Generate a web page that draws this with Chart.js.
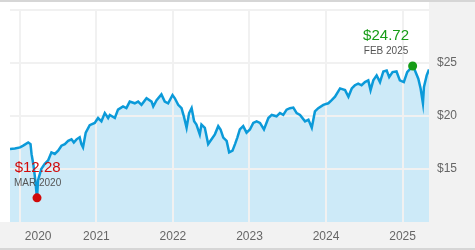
<!DOCTYPE html>
<html>
<head>
<meta charset="utf-8">
<script src="https://cdn.jsdelivr.net/npm/chart.js@4.4.1/dist/chart.umd.min.js"></script>
<style>
  html, body { margin: 0; padding: 0; background: #fff; }
  canvas { display: block; }
</style>
</head>
<body>
<canvas id="chart" width="475" height="250"></canvas>
<script>
// price history
const dates = [
  '2019-11-15','2019-12-08','2020-01-02','2020-01-17','2020-02-10','2020-02-21','2020-02-26','2020-03-05',
  '2020-03-13','2020-03-23','2020-03-28','2020-04-13','2020-04-29','2020-05-15','2020-05-31','2020-06-16',
  '2020-07-02','2020-07-18','2020-08-03','2020-08-19','2020-09-04','2020-09-15','2020-09-28','2020-10-13',
  '2020-10-21','2020-10-29','2020-11-11','2020-11-30','2020-12-24','2021-01-09','2021-01-25','2021-02-10',
  '2021-02-26','2021-03-06','2021-03-30','2021-04-14','2021-05-08','2021-05-24','2021-06-09','2021-07-03',
  '2021-07-19','2021-08-04','2021-08-28','2021-09-21','2021-09-29','2021-10-15','2021-11-07','2021-11-23',
  '2021-12-09','2021-12-30','2022-01-10','2022-01-26','2022-02-11','2022-02-22','2022-03-07','2022-03-19',
  '2022-03-31','2022-04-12','2022-04-23','2022-05-09','2022-05-17','2022-06-02','2022-06-18','2022-07-04',
  '2022-07-20','2022-08-05','2022-08-16','2022-08-29','2022-09-14','2022-09-26','2022-10-12','2022-10-24',
  '2022-11-04','2022-11-16','2022-12-02','2022-12-18','2023-01-03','2023-01-19','2023-02-04','2023-02-20',
  '2023-03-11','2023-04-01','2023-04-17','2023-05-10','2023-05-26','2023-06-11','2023-06-27','2023-07-13',
  '2023-07-29','2023-08-14','2023-08-30','2023-09-23','2023-10-09','2023-10-25','2023-11-09','2023-11-25',
  '2023-12-19','2024-01-12','2024-01-28','2024-02-13','2024-03-08','2024-04-01','2024-04-17','2024-05-03',
  '2024-05-18','2024-06-03','2024-06-19','2024-07-05','2024-07-21','2024-08-01','2024-08-14','2024-08-30',
  '2024-09-15','2024-10-01','2024-10-17','2024-10-29','2024-11-14','2024-12-03','2024-12-19','2025-01-07',
  '2025-01-23','2025-02-18','2025-03-01','2025-03-17','2025-03-28','2025-04-08','2025-04-13','2025-04-26',
  '2025-05-07'
];
const prices = [
  16.88,16.94,17.04,17.20,17.50,17.35,16.40,15.50,
  14.26,12.28,13.95,15.03,15.50,15.80,16.57,16.42,
  16.73,17.20,17.35,17.65,17.80,17.50,17.80,18.00,
  17.35,17.04,18.43,19.14,19.35,19.81,19.50,20.28,
  19.81,20.10,19.81,20.60,20.90,20.74,21.36,21.20,
  21.36,21.05,21.67,21.36,20.90,21.50,22.04,21.36,
  21.20,21.98,21.67,21.05,20.74,19.97,18.89,20.28,
  20.74,19.50,19.20,18.27,19.20,18.89,17.35,17.80,
  18.27,19.04,18.73,17.96,17.65,16.57,16.73,17.35,
  17.96,18.73,19.04,18.43,18.73,19.35,19.50,19.35,
  18.73,19.81,20.10,19.97,20.28,20.10,20.60,20.74,
  20.80,20.28,20.10,19.50,19.66,18.89,20.43,20.74,
  21.05,21.20,21.50,21.82,22.60,22.44,21.82,22.60,
  22.90,23.06,22.90,23.20,23.36,22.44,23.36,23.83,
  23.20,24.20,24.29,23.67,24.14,24.20,23.36,23.20,
  24.14,24.72,24.29,23.52,22.60,21.20,22.75,23.83,
  24.38
];
const yearTicks = [2020, 2021, 2022, 2023, 2024, 2025];
const priceTicks = [10, 15, 20, 25, 30];
const months = ['JAN','FEB','MAR','APR','MAY','JUN','JUL','AUG','SEP','OCT','NOV','DEC'];

function toYear(s) {
  const [y, m, d] = s.split('-').map(Number);
  const a = Date.UTC(y, 0, 1), b = Date.UTC(y + 1, 0, 1);
  return y + (Date.UTC(y, m - 1, d) - a) / (b - a);
}

const points = dates.map((d, i) => ({ x: toYear(d), y: prices[i] }));
const lowIdx = prices.indexOf(Math.min(...prices));
const highIdx = prices.indexOf(Math.max(...prices));
const marks = [lowIdx, highIdx];
const markColors = ['#d10a0a', '#169c16'];

function monthLabel(s) {
  const [y, m] = s.split('-').map(Number);
  return months[m - 1] + ' ' + y;
}

const frame = {
  id: 'frame',
  beforeDraw(chart) {
    const { ctx, width, height, chartArea: a } = chart;
    ctx.save();
    ctx.fillStyle = '#fff';
    ctx.fillRect(0, 0, width, height);
    ctx.fillStyle = '#f2f2f2';
    ctx.fillRect(a.right, 0, width - a.right, height);
    ctx.fillRect(0, a.bottom, width, height - a.bottom);
    ctx.fillStyle = '#d6d6d6';
    ctx.fillRect(0, 0, width, 2);
    ctx.fillRect(0, height - 2, width, 2);
    ctx.restore();
  },
  // grid goes over the fill but under the line
  beforeDatasetDraw(chart, args) {
    if (args.index !== 1) return;
    const { ctx, chartArea: a, scales } = chart;
    ctx.save();
    ctx.strokeStyle = '#f1f1f1';
    ctx.lineWidth = 2;
    ctx.beginPath();
    scales.y.ticks.forEach(t => {
      if (t.value === scales.y.min) return;
      const y = Math.round(scales.y.getPixelForValue(t.value));
      ctx.moveTo(a.left, y); ctx.lineTo(a.right, y);
    });
    scales.x.ticks.forEach(t => {
      const x = Math.round(scales.x.getPixelForValue(t.value));
      ctx.moveTo(x, a.top); ctx.lineTo(x, a.bottom);
    });
    ctx.stroke();
    ctx.restore();
  },
  afterDatasetsDraw(chart) {
    const { ctx, chartArea: a, scales } = chart;
    ctx.save();
    ctx.textAlign = 'center';
    ctx.textBaseline = 'middle';
    marks.forEach((idx, k) => {
      const px = scales.x.getPixelForValue(points[idx].x);
      const py = scales.y.getPixelForValue(points[idx].y);
      const top = '$' + prices[idx].toFixed(2);
      const sub = monthLabel(dates[idx]);
      ctx.font = '15px "Liberation Sans", Arial, sans-serif';
      const w1 = ctx.measureText(top).width;
      ctx.font = '10px "Liberation Sans", Arial, sans-serif';
      const w2 = ctx.measureText(sub).width;
      const half = Math.max(w1, w2) / 2;
      const cx = Math.max(a.left + 4 + half, Math.min(px, a.right - 20 - half));
      ctx.font = '15px "Liberation Sans", Arial, sans-serif';
      ctx.fillStyle = markColors[k];
      ctx.fillText(top, cx, py - 30);
      ctx.font = '10px "Liberation Sans", Arial, sans-serif';
      ctx.fillStyle = '#555';
      ctx.fillText(sub, cx, py - 15);
    });
    ctx.restore();
  }
};

Chart.defaults.font.family = '"Liberation Sans", Arial, sans-serif';
Chart.defaults.font.size = 12;
Chart.defaults.color = '#666';

new Chart(document.getElementById('chart'), {
  type: 'line',
  data: {
    datasets: [
      {
        data: points, borderWidth: 0, pointRadius: 0, fill: 'start',
        backgroundColor: '#cdeaf8', order: 3
      },
      {
        data: points, borderColor: '#0b9ad9', borderWidth: 2.5, pointRadius: 0,
        fill: false, tension: 0, order: 2
      },
      {
        type: 'scatter',
        data: marks.map(i => points[i]),
        pointRadius: 4.5, pointHoverRadius: 4.5, borderWidth: 0,
        backgroundColor: markColors, order: 1
      }
    ]
  },
  options: {
    responsive: false,
    animation: false,
    devicePixelRatio: 1,
    layout: { padding: { left: 10, top: 10, right: 0, bottom: 0 } },
    plugins: { legend: { display: false }, tooltip: { enabled: false } },
    scales: {
      x: {
        type: 'linear',
        min: points[0].x,
        max: points[points.length - 1].x,
        grid: { display: false, drawTicks: false },
        border: { display: false },
        afterBuildTicks: s => { s.ticks = yearTicks.map(v => ({ value: v })); },
        afterFit: s => { s.height = 28; s.paddingLeft = 0; s.paddingRight = 0; },
        ticks: {
          autoSkip: false, maxRotation: 0, padding: 7, color: '#666',
          // first label sits clear of the left edge
          callback: v => (v === yearTicks[0] ? '           ' : '') + v
        }
      },
      y: {
        position: 'right',
        min: priceTicks[0],
        max: priceTicks[priceTicks.length - 1],
        grid: { display: false, drawTicks: false },
        border: { display: false },
        afterBuildTicks: s => { s.ticks = priceTicks.map(v => ({ value: v })); },
        afterFit: s => { s.width = 46; s.paddingTop = 0; s.paddingBottom = 0; },
        ticks: {
          padding: 8, color: '#666',
          callback: v => (v === priceTicks[0] || v === priceTicks[priceTicks.length - 1]) ? '' : '$' + v
        }
      }
    }
  },
  plugins: [frame]
});
</script>
</body>
</html>
